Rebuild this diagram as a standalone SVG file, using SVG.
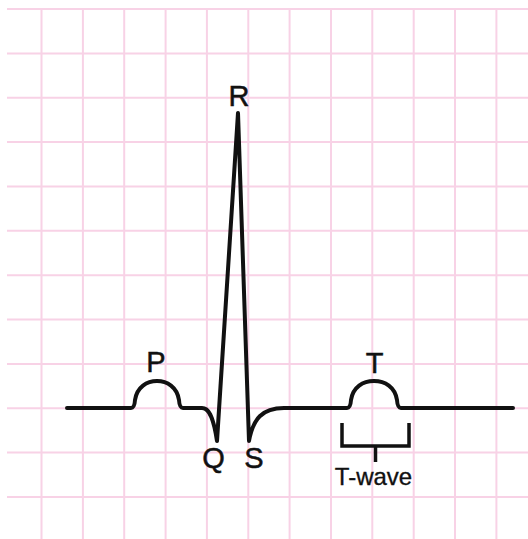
<svg xmlns="http://www.w3.org/2000/svg" width="528" height="539" viewBox="0 0 528 539">
  <style>
    .grid line { stroke: #f8d2e6; stroke-width: 2; }
    .trace { fill: none; stroke: #111; stroke-width: 4; stroke-linecap: round; stroke-linejoin: round; }
    .bracket { fill: none; stroke: #111; stroke-width: 3.5; stroke-linecap: butt; stroke-linejoin: miter; }
    .lbl { font-family: "Liberation Sans", Arial, sans-serif; font-size: 29px; fill: #111; stroke: #111; stroke-width: 0.5; text-anchor: middle; }
    .sub { font-family: "Liberation Sans", Arial, sans-serif; font-size: 24px; fill: #111; stroke: #111; stroke-width: 0.35; text-anchor: middle; }
  </style>
  <rect width="528" height="539" fill="#ffffff"/>
  <g id="grid" class="grid">
    <line x1="41.5" y1="9" x2="41.5" y2="539"/>
    <line x1="82.9" y1="9" x2="82.9" y2="539"/>
    <line x1="124.2" y1="9" x2="124.2" y2="539"/>
    <line x1="165.6" y1="9" x2="165.6" y2="539"/>
    <line x1="206.9" y1="9" x2="206.9" y2="539"/>
    <line x1="248.3" y1="9" x2="248.3" y2="539"/>
    <line x1="289.6" y1="9" x2="289.6" y2="539"/>
    <line x1="331" y1="9" x2="331" y2="539"/>
    <line x1="372.3" y1="9" x2="372.3" y2="539"/>
    <line x1="413.7" y1="9" x2="413.7" y2="539"/>
    <line x1="455" y1="9" x2="455" y2="539"/>
    <line x1="496.4" y1="9" x2="496.4" y2="539"/>
    <line x1="7" y1="9" x2="528" y2="9"/>
    <line x1="7" y1="53.4" x2="528" y2="53.4"/>
    <line x1="7" y1="97.7" x2="528" y2="97.7"/>
    <line x1="7" y1="142.1" x2="528" y2="142.1"/>
    <line x1="7" y1="186.4" x2="528" y2="186.4"/>
    <line x1="7" y1="230.8" x2="528" y2="230.8"/>
    <line x1="7" y1="275.2" x2="528" y2="275.2"/>
    <line x1="7" y1="319.5" x2="528" y2="319.5"/>
    <line x1="7" y1="363.9" x2="528" y2="363.9"/>
    <line x1="7" y1="408.2" x2="528" y2="408.2"/>
    <line x1="7" y1="452.6" x2="528" y2="452.6"/>
    <line x1="7" y1="497" x2="528" y2="497"/>
  </g>
  <g id="connectors">
    <path id="ecg-trace" class="trace" d="M67,408 H131 Q134.5,408 135,400 C137,387 147,381 157,381 C167,381 177,387 179,400 Q179.5,408 183,408 H202 C208,408 213,414 217,441 L238,113 L249,441 C253,419 262,408 284,408 H347 Q350.5,408 351,400 C353,387 363,381 374,381 C385,381 395,387 397,400 Q397.5,408 401,408 H513"/>
    <path id="t-bracket" class="bracket" d="M342,423 V446 H409 V423 M375.5,446 V462"/>
  </g>
  <g id="label-R"><text class="lbl" x="239" y="106">R</text></g>
  <g id="label-P"><text class="lbl" x="156" y="372">P</text></g>
  <g id="label-Q"><text class="lbl" x="213.5" y="468">Q</text></g>
  <g id="label-S"><text class="lbl" x="254" y="468">S</text></g>
  <g id="label-T"><text class="lbl" x="374.5" y="373">T</text></g>
  <g id="label-T-wave"><text class="sub" x="373.5" y="485">T-wave</text></g>
</svg>
